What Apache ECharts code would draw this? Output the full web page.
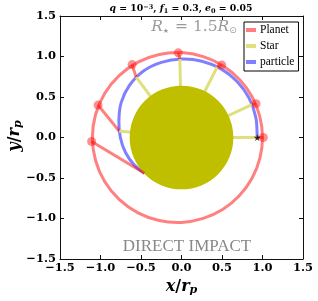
<!DOCTYPE html>
<html><head><meta charset="utf-8">
<script src="https://cdn.jsdelivr.net/npm/echarts@6/dist/echarts.min.js"></script>
<style>html,body{margin:0;padding:0;background:#fff}#c{width:318px;height:301px}</style>
</head><body><div id="c"></div>
<script>
// Planet orbit
const orbitX = [1.0,0.967,0.871,0.716,0.512,0.268,0,-0.275,-0.537,-0.767,-0.947,-1.061,-1.100,-1.061,-0.947,-0.767,-0.537,-0.275,0,0.268,0.512,0.716,0.871,0.967,1.0];
const orbitY = [0,0.259,0.503,0.716,0.886,0.999,1.048,1.025,0.930,0.767,0.547,0.284,0,-0.284,-0.547,-0.767,-0.930,-1.025,-1.048,-0.999,-0.886,-0.716,-0.503,-0.259,0];
// Particle trajectory
const particleX = [0.935,0.918,0.836,0.689,0.489,0.252,0,-0.248,-0.473,-0.643,-0.745,-0.773,-0.755,-0.691,-0.585,-0.457];
const particleY = [0,0.246,0.483,0.689,0.847,0.942,0.968,0.927,0.818,0.643,0.43,0.207,0,-0.185,-0.338,-0.441];
// Snapshots: planet positions and particle positions
const planetX = [1.01,0.92,0.496,-0.04,-0.61,-1.03,-1.11];
const planetY = [0,0.418,0.896,1.045,0.90,0.40,-0.05];
const snapX = [0.935,0.87,0.44,-0.02,-0.56,-0.77,-0.457];
const snapY = [0,0.405,0.87,0.968,0.745,0.08,-0.441];
// Star
const starX = [0], starY = [0], starR = [0.64];
const startX = [0.935], startY = [0];
const tickValues = [-1.5,-1.0,-0.5,0,0.5,1.0,1.5];

const fmt = v => (v < 0 ? '\u2212' : '') + Math.abs(v).toFixed(1);
const serif = 'DejaVu Serif';
const chart = echarts.init(document.getElementById('c'));

const seg = (x1,y1,x2,y2) => x1.map((v,i)=>[v,y1[i],x2[i],y2[i]]);
const segRender = (color,width) => function(params, api){
  const p1 = api.coord([api.value(0), api.value(1)]);
  const p2 = api.coord([api.value(2), api.value(3)]);
  return {type:'line', shape:{x1:p1[0],y1:p1[1],x2:p2[0],y2:p2[1]}, style:{stroke:color,lineWidth:width}};
};
// smooth curve through data points (Catmull-Rom), positions from the axis scales
const curveRender = (xs, ys, closed, color, width) => function(params, api){
  if (params.dataIndex !== 0) return {type:'group', children:[]};
  const P = xs.map((v,i)=>api.coord([v, ys[i]]));
  const n = P.length;
  let d = 'M' + P[0][0] + ' ' + P[0][1];
  for (let i = 0; i < n - 1; i++) {
    const p0 = i > 0 ? P[i-1] : (closed ? P[n-2] : P[0]);
    const p1 = P[i], p2 = P[i+1];
    const p3 = i + 2 < n ? P[i+2] : (closed ? P[1] : P[n-1]);
    const c1 = [p1[0] + (p2[0]-p0[0])/6, p1[1] + (p2[1]-p0[1])/6];
    const c2 = [p2[0] - (p3[0]-p1[0])/6, p2[1] - (p3[1]-p1[1])/6];
    d += ' C' + c1[0] + ' ' + c1[1] + ' ' + c2[0] + ' ' + c2[1] + ' ' + p2[0] + ' ' + p2[1];
  }
  return {type:'path', shape:{pathData:d}, style:{fill:null, stroke:color, lineWidth:width, lineJoin:'round'}};
};

const axisCommon = {
  type:'value', min:tickValues[0], max:tickValues[tickValues.length-1], interval:0.5,
  splitLine:{show:false},
  axisLine:{show:true,onZero:false,lineStyle:{color:'#111',width:1}},
  axisTick:{show:true,inside:true,length:4,lineStyle:{color:'#111'}},
};
const richName = {
  i:{fontFamily:serif,fontStyle:'italic',fontWeight:'bold',fontSize:16,fill:'#000',color:'#000'},
  n:{fontFamily:serif,fontWeight:'bold',fontSize:16,fill:'#000',color:'#000'},
  sub:{fontFamily:serif,fontStyle:'italic',fontWeight:'bold',fontSize:11,fill:'#000',color:'#000',verticalAlign:'bottom',padding:[6,0,0,0]}
};

chart.setOption({
  animation:false,
  grid:{left:60,right:15,top:16,bottom:42,outerBoundsMode:'none'},
  legend:{
    orient:'vertical', left:244, top:22, padding:[2,4,3,2], itemGap:4,
    itemWidth:10, itemHeight:4, icon:'rect',
    borderColor:'#000', borderWidth:1, borderRadius:0, backgroundColor:'#fff',
    textStyle:{fontFamily:'Liberation Serif',fontSize:11.5,color:'#000',padding:[0,0,0,-1]},
    data:['Planet','Star','particle']
  },
  xAxis:[
    Object.assign({}, axisCommon, {position:'bottom',
      axisLabel:{formatter:fmt,fontFamily:serif,fontWeight:'bold',fontSize:11.5,color:'#000',margin:3},
      name:'{i|x}{n|/}{i|r}{sub|p}', nameLocation:'middle', nameGap:19,
      nameTextStyle:{rich:richName}}),
    Object.assign({}, axisCommon, {position:'top',axisLabel:{show:false}})
  ],
  yAxis:[
    Object.assign({}, axisCommon, {position:'left',
      axisLabel:{formatter:fmt,fontFamily:serif,fontWeight:'bold',fontSize:11.5,color:'#000',margin:4}}),
    Object.assign({}, axisCommon, {position:'right',axisLabel:{show:false}})
  ],
  graphic:[
    {type:'text', x:15, y:136, rotation:Math.PI/2, z:100, style:{
      text:'{i|y}{n|/}{i|r}{sub|p}', align:'center', verticalAlign:'middle',
      fontFamily:serif, fontSize:16, fill:'#000', rich:richName}},
    {type:'text', x:181, y:9, z:100, style:{
      text:'{i|q} = 10{sup|\u22123}, {i|f}{sub|1} = 0.3, {i|e}{sub|0} = 0.05',
      align:'center', verticalAlign:'middle', fill:'#000',
      fontFamily:serif, fontWeight:'bold', fontSize:9.3,
      rich:{
        i:{fontFamily:serif,fontStyle:'italic',fontWeight:'bold',fontSize:9.3},
        sup:{fontFamily:serif,fontWeight:'bold',fontSize:6.5,verticalAlign:'top',padding:[0,0,4,0]},
        sub:{fontFamily:serif,fontWeight:'bold',fontSize:6.5,verticalAlign:'bottom',padding:[4,0,0,0]}
      }}},
    {type:'text', x:194, y:27, z:100, style:{
      text:'{i|R}{s|\u2605} = 1.5{i|R}{o|\u2299}',
      align:'center', verticalAlign:'middle', fill:'#9a9a9a',
      fontFamily:serif, fontSize:15.5,
      rich:{
        i:{fontFamily:serif,fontStyle:'italic',fontSize:15.5,fill:'#9a9a9a'},
        s:{fontFamily:'DejaVu Sans',fontSize:7,fill:'#9a9a9a',verticalAlign:'bottom',padding:[6,1,0,0]},
        o:{fontFamily:'DejaVu Sans',fontSize:9,fill:'#9a9a9a',verticalAlign:'bottom',padding:[6,0,0,0]}
      }}},
    {type:'text', x:187, y:247, z:100, style:{
      text:'DIRECT IMPACT', align:'center', verticalAlign:'middle',
      fill:'#888', fontFamily:'Liberation Serif', fontSize:17}}
  ],
  series:[
    {name:'Planet', type:'custom', itemStyle:{color:'#ff8080'}, z:2, encode:{x:0,y:1},
      renderItem:curveRender(orbitX, orbitY, true, '#ff8080', 3),
      data:orbitX.map((v,i)=>[v,orbitY[i]])},
    {name:'particle', type:'custom', itemStyle:{color:'#8080ff'}, z:3, encode:{x:0,y:1},
      renderItem:curveRender(particleX, particleY, false, '#8080ff', 3),
      data:particleX.map((v,i)=>[v,particleY[i]])},
    {name:'Star', type:'custom', itemStyle:{color:'#dfdf80'}, z:4,
      renderItem:segRender('#dfdf80',3), encode:{x:[0,2],y:[1,3]},
      data:seg(snapX,snapY,snapX.map(()=>starX[0]),snapY.map(()=>starY[0]))},
    {type:'custom', z:5, encode:{x:0,y:1}, silent:true,
      renderItem:function(params,api){
        const c = api.coord([api.value(0),api.value(1)]);
        const r = api.size([api.value(2),0])[0];
        return {type:'circle', shape:{cx:c[0],cy:c[1],r:r}, style:{fill:'#bfbf00'}};
      },
      data:starX.map((v,i)=>[v,starY[i],starR[i]])},
    {type:'custom', z:6, encode:{x:[0,2],y:[1,3]},
      renderItem:segRender('rgba(255,0,0,0.5)',3),
      data:seg(planetX,planetY,snapX,snapY)},
    {type:'scatter', z:7, symbolSize:9, itemStyle:{color:'rgba(255,20,20,0.6)'},
      data:planetX.map((v,i)=>[v,planetY[i]])},
    {type:'scatter', z:8, symbolSize:7,
      symbol:'path://M50,0 L61,35 L98,35 L68,57 L79,91 L50,70 L21,91 L32,57 L2,35 L39,35 Z',
      itemStyle:{color:'#000'}, data:startX.map((v,i)=>[v,startY[i]])}
  ]
});
</script></body></html>
